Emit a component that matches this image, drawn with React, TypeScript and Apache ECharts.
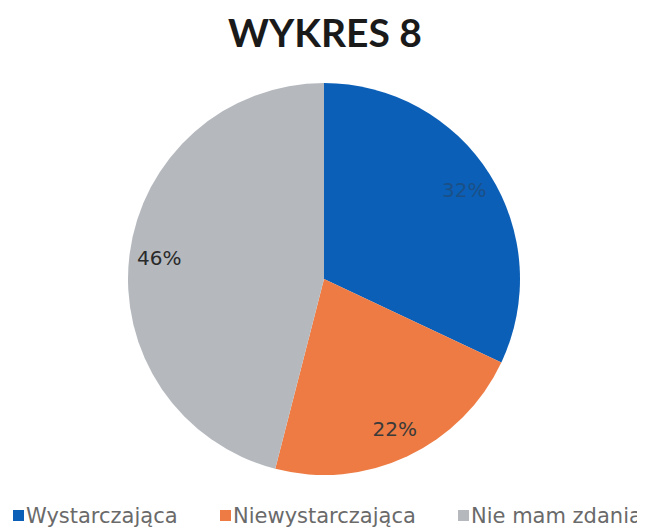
import React, { useEffect, useRef } from "react";
import * as echarts from "echarts";

const categories = ["Wystarczająca", "Niewystarczająca", "Nie mam zdania"];
const values = [32, 22, 46];
const colors = ["#0B5FB7", "#EE7B43", "#B5B9BE"];
const labelColors = ["#1B4F86", "#3A3A3A", "#2A2A2A"];
const legendLefts = [5, 212, 450];
const titleText = "WYKRES 8";

export default function App() {
  const ref = useRef<HTMLDivElement>(null);
  useEffect(() => {
    if (!ref.current) return;
    const chart = echarts.init(ref.current, undefined, { renderer: "svg" });
    const data = categories.map((name, i) => ({
      name,
      value: values[i],
      itemStyle: { color: colors[i] },
    }));
    chart.setOption({
      animation: false,
      backgroundColor: "#ffffff",
      title: {
        text: titleText,
        left: 215,
        top: -1,
        textStyle: { fontFamily: "Lato", fontWeight: "bold", fontSize: 39, color: "#1a1a1a" },
      },
      legend: categories.map((name, i) => ({
        top: 497,
        left: legendLefts[i],
        padding: 0,
        itemWidth: 11,
        itemHeight: 11,
        icon: "rect",
        data: [name],
        textStyle: { fontFamily: "DejaVu Sans", fontSize: 21, color: "#6a6a6a", padding: [0, 0, 0, -3] },
      })),
      series: [
        {
          type: "pie",
          center: [316, 271],
          radius: [0, 196],
          startAngle: 90,
          clockwise: true,
          label: { show: false },
          labelLine: { show: false },
          silent: true,
          data,
        },
        {
          type: "pie",
          center: [316, 271],
          radius: [130, 196],
          startAngle: 90,
          clockwise: true,
          silent: true,
          itemStyle: { color: "transparent" },
          label: {
            show: true,
            position: "inside",
            formatter: "{c}%",
            fontFamily: "DejaVu Sans",
            fontSize: 20,
          },
          labelLine: { show: false },
          data: categories.map((name, i) => ({
            name,
            value: values[i],
            itemStyle: { color: "transparent" },
            label: { color: labelColors[i] },
          })),
        },
      ],
    });
    return () => chart.dispose();
  }, []);
  return <div ref={ref} style={{ width: 637, height: 522 }} />;
}
